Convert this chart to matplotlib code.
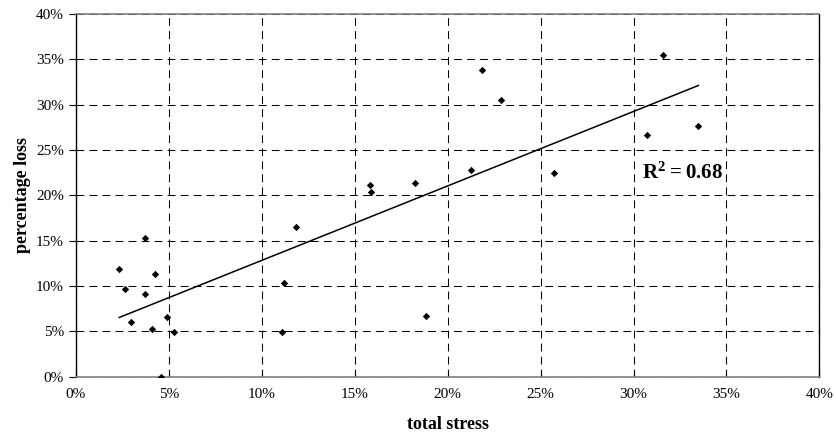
import numpy as np
import matplotlib
matplotlib.use("Agg")
import matplotlib.pyplot as plt
from matplotlib.ticker import PercentFormatter, MultipleLocator

plt.rcParams['font.family'] = ['Liberation Serif', 'DejaVu Serif']
plt.rcParams['mathtext.fontset'] = 'custom'
plt.rcParams['mathtext.rm'] = 'Liberation Serif'
plt.rcParams['mathtext.bf'] = 'Liberation Serif:bold'

# Data (percent)
total_stress = [2.34, 2.65, 2.97, 3.71, 3.71, 4.09, 4.26, 4.60, 4.92, 5.27,
                11.18, 11.11, 11.84, 15.82, 15.86, 18.24, 18.85, 21.25,
                21.86, 22.87, 25.70, 30.70, 31.61, 33.49]
percentage_loss = [11.9, 9.63, 6.0, 15.33, 9.12, 5.26, 11.36, 0.0, 6.62, 4.96,
                   10.3, 4.9, 16.54, 21.1, 20.36, 21.36, 6.65, 22.75,
                   33.85, 30.47, 22.46, 26.68, 35.5, 27.67]
r2_label = r"$\mathbf{R^2 = 0.68}$"

x = np.array(total_stress)
y = np.array(percentage_loss)

fig = plt.figure(figsize=(8.36, 4.32), dpi=100)
ax = fig.add_axes([0.0906, 0.128, 0.8896, 0.8396])

ax.set_xlim(0, 40)
ax.set_ylim(0, 40)
ax.xaxis.set_major_locator(MultipleLocator(5))
ax.yaxis.set_major_locator(MultipleLocator(5))
ax.xaxis.set_major_formatter(PercentFormatter(xmax=100, decimals=0))
ax.yaxis.set_major_formatter(PercentFormatter(xmax=100, decimals=0))

ax.grid(True, color='black', linewidth=0.75, linestyle=(0, (7.5, 5)))
ax.set_axisbelow(True)

ax.scatter(x, y, marker='D', s=14, color='black', zorder=3, linewidths=0)

# Linear trendline
slope, intercept = np.polyfit(x, y, 1)
xs = np.array([x.min(), x.max()])
ax.plot(xs, slope * xs + intercept, color='black', linewidth=1.1, zorder=3)

ax.text(30.45, 22.4, r2_label, fontsize=15, ha='left', va='center')

for s in ['left', 'right']:
    ax.spines[s].set_color('black')
    ax.spines[s].set_linewidth(1.0)
for s in ['top', 'bottom']:
    ax.spines[s].set_color('#808080')
    ax.spines[s].set_linewidth(1.2)

ax.tick_params(axis='y', direction='out', length=5, width=0.8, labelsize=11, colors='black')
ax.tick_params(axis='x', direction='in', length=5, width=0.8, labelsize=11, pad=8)

ax.set_xlabel('total stress', fontsize=13, fontweight='bold', labelpad=11)
ax.set_ylabel('percentage loss', fontsize=13, fontweight='bold', labelpad=4)

fig.savefig('out.png', dpi=100)
